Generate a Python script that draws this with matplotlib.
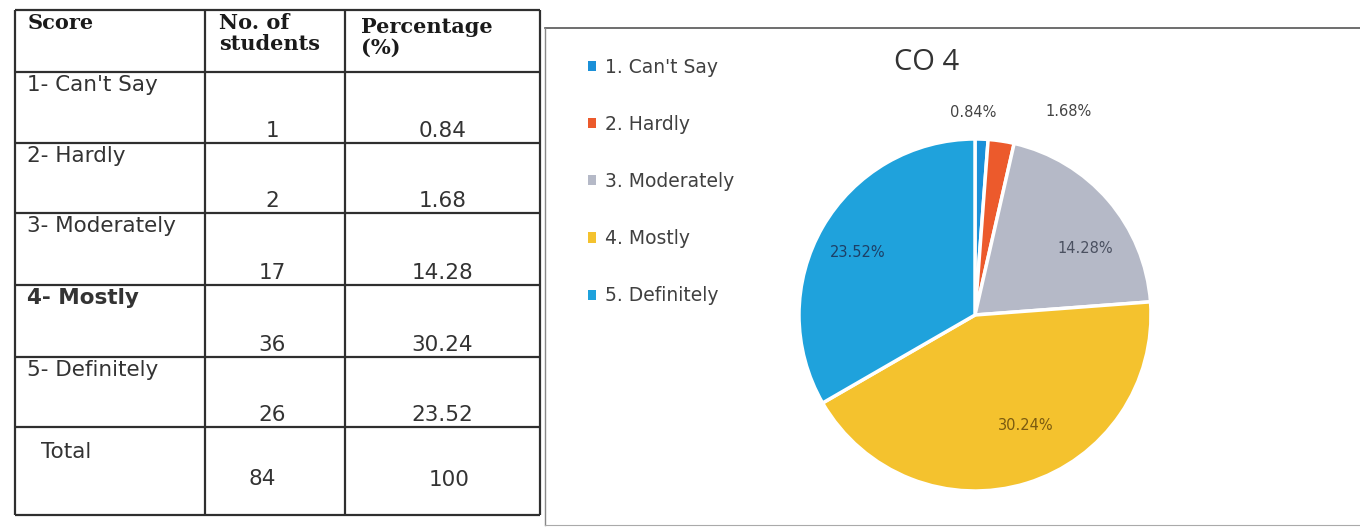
import matplotlib
matplotlib.use("Agg")
import matplotlib.pyplot as plt
import numpy as np

# ---------------- data ----------------
header = ["Score", "No. of\nstudents", "Percentage\n(%)"]
scores = ["1- Can't Say", "2- Hardly", "3- Moderately", "4- Mostly", "5- Definitely"]
students = [1, 2, 17, 36, 26]
percent_text = ["0.84", "1.68", "14.28", "30.24", "23.52"]
total_label = "Total"
total_students = 84
total_percent = 100
pie_title = "CO 4"
legend_labels = ["1. Can't Say", "2. Hardly", "3. Moderately", "4. Mostly", "5. Definitely"]
pie_values = [0.84, 1.68, 14.28, 30.24, 23.52]
pie_colors = ["#1b90d8", "#ec5a2c", "#b5b9c7", "#f4c22e", "#1fa2dc"]

W, H = 1360, 529
fig = plt.figure(figsize=(W / 100, H / 100), dpi=100)
fig.patch.set_facecolor("white")

# ---------------- overlay axes (pixel coords) for the table ----------------
bg = fig.add_axes([0, 0, 1, 1])
bg.set_xlim(0, W)
bg.set_ylim(H, 0)
bg.axis("off")

line_kw = dict(color="#2f2f2f", lw=1.6, solid_capstyle="butt")
col_x = [15, 205, 345, 540]
row_y = [10, 72, 143, 213, 285, 357, 427, 515]
for x in col_x:
    bg.plot([x, x], [row_y[0], row_y[-1]], **line_kw)
for y in row_y:
    bg.plot([col_x[0], col_x[-1]], [y, y], **line_kw)
# chart border (right panel)
bg.plot([545, W], [28, 28], color="#555555", lw=1.2)
bg.plot([545, 545], [28, 525], color="#888888", lw=1.0)
bg.plot([545, W], [525, 525], color="#aaaaaa", lw=0.8)

serif = dict(family="DejaVu Serif", fontweight="bold", color="#1a1a1a", fontsize=15)
bg.text(col_x[0] + 13, 23, header[0], va="center", ha="left", **serif)
bg.text(col_x[1] + 14, 13, header[1], va="top", ha="left", linespacing=1.05, **serif)
bg.text(col_x[2] + 16, 17, header[2], va="top", ha="left", linespacing=1.05, **serif)

sans = dict(family="DejaVu Sans", color="#333333", fontsize=15.5)
for i, (s, n, p) in enumerate(zip(scores, students, percent_text)):
    top, bot = row_y[i + 1], row_y[i + 2]
    bg.text(col_x[0] + 12, top + 13, s, va="center", ha="left",
            fontweight="bold" if i == 3 else "normal", **sans)
    bg.text((col_x[1] + col_x[2]) / 2 - 3, bot - 12, str(n), va="center", ha="center", **sans)
    bg.text((col_x[2] + col_x[3]) / 2, bot - 12, p, va="center", ha="center", **sans)
bg.text(col_x[0] + 26, row_y[6] + 25, total_label, va="center", ha="left", **sans)
bg.text((col_x[1] + col_x[2]) / 2 - 13, row_y[6] + 52, str(total_students), va="center", ha="center", **sans)
bg.text((col_x[2] + col_x[3]) / 2 + 7, row_y[6] + 53, str(total_percent), va="center", ha="center", **sans)

# ---------------- pie ----------------
cx, cy, r = 975, 315, 176
ax = fig.add_axes([(cx - r) / W, (H - cy - r) / H, 2 * r / W, 2 * r / H])
wedges, _ = ax.pie(pie_values, colors=pie_colors, startangle=90, counterclock=False,
                   wedgeprops=dict(edgecolor="white", linewidth=2.5))
ax.set_xlim(-1, 1)
ax.set_ylim(-1, 1)
ax.axis("off")

label_r = [1.15, 1.17, 0.74, 0.66, 0.77]
label_dx = [-7, 45, 8, 12, 0]
label_dy = [0, 0, -13, 0, -4]
label_col = ["#444444", "#444444", "#4a5060", "#7a5a10", "#1d3f66"]
total = sum(pie_values)
start = 90.0
for i, v in enumerate(pie_values):
    span = v / total * 360
    mid = np.deg2rad(start - span / 2)
    start -= span
    ax.annotate(f"{v:.2f}%", xy=(label_r[i] * np.cos(mid), label_r[i] * np.sin(mid)),
                xytext=(label_dx[i], label_dy[i]), textcoords="offset points",
                ha="center", va="center", fontsize=10.5, color=label_col[i],
                family="DejaVu Sans", annotation_clip=False)

fig.text(927 / W, 1 - 62 / H, pie_title, ha="center", va="center", fontsize=21,
         family="Open Sans", color="#333333")

leg = fig.legend(wedges, legend_labels, loc="upper left",
                 bbox_to_anchor=(588 / W, 1 - 58 / H), frameon=False,
                 handlelength=0.45, handleheight=0.45, handletextpad=0.45,
                 labelspacing=2.03, borderpad=0, borderaxespad=0,
                 prop=dict(family="DejaVu Sans", size=13.5))
for h in leg.legend_handles:
    h.set_edgecolor("none")
    h.set_linewidth(0)
for t in leg.get_texts():
    t.set_color("#404040")

fig.savefig("out.png", dpi=100, facecolor="white")
